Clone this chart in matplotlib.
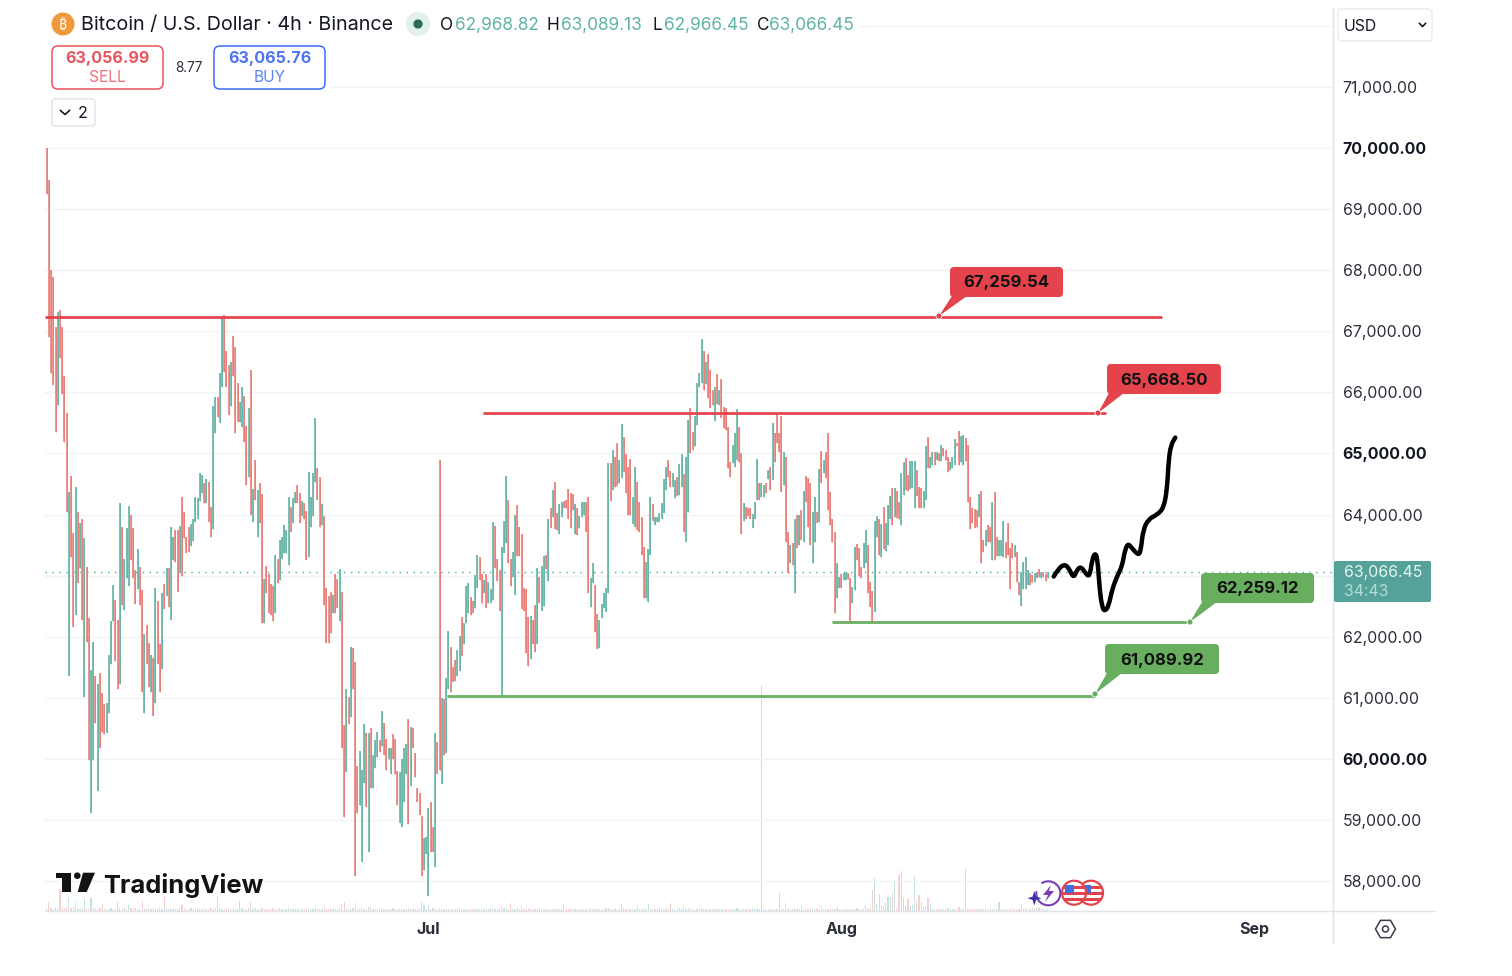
# -*- coding: utf-8 -*-
import numpy as np
import pandas as pd
import matplotlib
matplotlib.use("Agg")
import matplotlib.pyplot as plt
from matplotlib.patches import Circle, FancyBboxPatch, Polygon, Rectangle, RegularPolygon, Arc, PathPatch
from matplotlib.path import Path

plt.rcParams["font.family"] = ["Inter", "DejaVu Sans"]

# ── Data (prices in tens of USD, one entry per 4h candle) ─────────────────────
FIRST_CANDLE = "2024-06-02 08:00"
HIGHS = [
    7000, 6948, 6800, 6789, 6707, 6732, 6735, 6707, 6627, 6567,
    6437, 6463, 6370, 6445, 6405, 6387, 6392, 6361, 6315, 6230,
    6146, 6192, 6136, 6122, 6141, 6108, 6090, 6092, 6170, 6226,
    6285, 6260, 6228, 6419, 6380, 6328, 6378, 6414, 6400, 6378,
    6310, 6344, 6315, 6276, 6205, 6220, 6190, 6170, 6166, 6280,
    6258, 6189, 6272, 6287, 6313, 6313, 6380, 6364, 6374, 6374,
    6382, 6429, 6405, 6364, 6380, 6385, 6392, 6429, 6427, 6468,
    6465, 6451, 6459, 6454, 6413, 6577, 6593, 6592, 6632, 6725,
    6727, 6667, 6645, 6650, 6692, 6674, 6615, 6584, 6609, 6594,
    6545, 6575, 6637, 6442, 6490, 6440, 6452, 6434, 6295, 6316,
    6303, 6287, 6283, 6334, 6328, 6359, 6364, 6383, 6374, 6429,
    6413, 6427, 6437, 6449, 6436, 6423, 6419, 6406, 6470, 6429,
    6468, 6558, 6476, 6462, 6418, 6398, 6280, 6267, 6274, 6269,
    6303, 6295, 6311, 6274, 6056, 6115, 6102, 6184, 6181, 6159,
    5988, 6013, 5982, 6058, 6043, 6043, 6050, 6006, 6031, 6044,
    6031, 6079, 6059, 6033, 6018, 6018, 6041, 6033, 5981, 5979,
    6000, 6018, 6025, 6066, 6053, 6051, 6009, 5952, 5945, 5906,
    5871, 5873, 5920, 5930, 5888, 6043, 6028, 6490, 6100, 6098,
    6133, 6210, 6184, 6151, 6162, 6178, 6202, 6232, 6223, 6283,
    6288, 6265, 6259, 6301, 6334, 6331, 6303, 6293, 6303, 6290,
    6278, 6388, 6382, 6328, 6310, 6347, 6390, 6463, 6424, 6328,
    6339, 6400, 6416, 6380, 6369, 6280, 6278, 6232, 6234, 6228,
    6252, 6313, 6298, 6316, 6333, 6334, 6393, 6411, 6440, 6454,
    6402, 6418, 6421, 6423, 6424, 6442, 6436, 6433, 6418, 6411,
    6398, 6420, 6421, 6421, 6429, 6296, 6321, 6285, 6238, 6228,
    6254, 6272, 6280, 6485, 6485, 6506, 6494, 6517, 6490, 6549,
    6527, 6499, 6478, 6491, 6429, 6478, 6454, 6421, 6396, 6347,
    6323, 6344, 6429, 6418, 6396, 6396, 6402, 6419, 6459, 6478,
    6490, 6472, 6468, 6457, 6462, 6483, 6499, 6467, 6495, 6554,
    6575, 6535, 6561, 6615, 6632, 6688, 6667, 6650, 6662, 6636,
    6604, 6609, 6630, 6604, 6622, 6576, 6575, 6544, 6486, 6514,
    6534, 6573, 6544, 6500, 6419, 6413, 6411, 6411, 6401, 6421,
    6491, 6452, 6452, 6449, 6451, 6473, 6478, 6550, 6534, 6566,
    6534, 6562, 6503, 6495, 6372, 6351, 6354, 6393, 6400, 6400,
    6408, 6439, 6463, 6460, 6452, 6405, 6429, 6405, 6475, 6504,
    6490, 6503, 6534, 6437, 6392, 6372, 6321, 6298, 6303, 6305,
    6306, 6305, 6296, 6282, 6347, 6352, 6346, 6315, 6354, 6374,
    6351, 6290, 6275, 6389, 6398, 6392, 6385, 6413, 6387, 6416,
    6431, 6443, 6443, 6438, 6420, 6468, 6486, 6492, 6465, 6488,
    6488, 6488, 6473, 6445, 6444, 6438, 6513, 6527, 6494, 6503,
    6503, 6503, 6501, 6514, 6509, 6506, 6494, 6486, 6494, 6524,
    6517, 6536, 6528, 6531, 6526, 6514, 6428, 6411, 6409, 6408,
    6433, 6439, 6359, 6375, 6383, 6380, 6420, 6437, 6364, 6359,
    6359, 6390, 6355, 6387, 6346, 6354, 6351, 6338, 6289, 6306,
    6322, 6331, 6310, 6305, 6301, 6305, 6306, 6311, 6306, 6306,
    6303, 6306,
]
LOWS = [
    6925, 6690, 6632, 6612, 6535, 6580, 6656, 6598, 6519, 6404,
    6135, 6331, 6216, 6236, 6288, 6313, 6228, 6102, 6192, 5999,
    5912, 5999, 6059, 5948, 6018, 6044, 6041, 6043, 6075, 6156,
    6226, 6161, 6114, 6122, 6252, 6244, 6296, 6283, 6325, 6296,
    6254, 6278, 6252, 6109, 6075, 6156, 6118, 6110, 6071, 6092,
    6156, 6109, 6148, 6246, 6267, 6249, 6228, 6326, 6323, 6274,
    6305, 6300, 6362, 6337, 6339, 6348, 6356, 6388, 6393, 6423,
    6436, 6419, 6419, 6388, 6364, 6376, 6534, 6560, 6550, 6609,
    6634, 6609, 6563, 6578, 6627, 6534, 6552, 6552, 6544, 6519,
    6449, 6462, 6400, 6388, 6424, 6364, 6387, 6223, 6223, 6272,
    6239, 6235, 6226, 6239, 6288, 6293, 6328, 6337, 6337, 6318,
    6372, 6387, 6419, 6419, 6387, 6398, 6393, 6325, 6331, 6380,
    6398, 6454, 6424, 6380, 6383, 6252, 6190, 6190, 6207, 6239,
    6239, 6247, 6226, 6018, 5905, 5979, 6058, 6069, 6114, 5809,
    5912, 5925, 5832, 5961, 5921, 5848, 5953, 5953, 5986, 6003,
    6012, 6021, 6007, 5982, 6000, 5975, 6000, 5975, 5925, 5896,
    5888, 5930, 5975, 5894, 5956, 6018, 5971, 5929, 5908, 5809,
    5819, 5845, 5775, 5847, 5847, 5824, 5975, 5982, 5959, 6007,
    6010, 6115, 6109, 6126, 6127, 6135, 6144, 6168, 6189, 6223,
    6239, 6235, 6239, 6247, 6280, 6293, 6256, 6272, 6247, 6256,
    6256, 6260, 6313, 6292, 6243, 6103, 6337, 6354, 6321, 6283,
    6298, 6269, 6332, 6332, 6246, 6243, 6174, 6152, 6164, 6189,
    6175, 6189, 6256, 6243, 6251, 6311, 6292, 6378, 6396, 6376,
    6375, 6369, 6396, 6410, 6410, 6393, 6378, 6408, 6369, 6367,
    6378, 6396, 6400, 6372, 6272, 6249, 6288, 6208, 6180, 6182,
    6231, 6247, 6241, 6272, 6423, 6440, 6445, 6447, 6452, 6460,
    6469, 6436, 6400, 6400, 6385, 6380, 6375, 6372, 6334, 6264,
    6263, 6257, 6334, 6390, 6383, 6388, 6388, 6393, 6403, 6441,
    6462, 6445, 6445, 6427, 6431, 6432, 6445, 6372, 6355, 6405,
    6500, 6506, 6513, 6547, 6609, 6615, 6604, 6614, 6590, 6575,
    6580, 6553, 6581, 6580, 6558, 6542, 6539, 6477, 6462, 6485,
    6478, 6490, 6486, 6368, 6390, 6392, 6397, 6392, 6378, 6392,
    6424, 6424, 6429, 6429, 6436, 6458, 6441, 6457, 6486, 6517,
    6503, 6437, 6449, 6355, 6305, 6321, 6318, 6272, 6345, 6351,
    6359, 6355, 6421, 6380, 6351, 6321, 6355, 6387, 6388, 6452,
    6468, 6460, 6408, 6383, 6355, 6239, 6263, 6280, 6280, 6293,
    6293, 6295, 6226, 6256, 6277, 6326, 6300, 6297, 6313, 6321,
    6272, 6249, 6223, 6241, 6364, 6334, 6331, 6344, 6341, 6351,
    6392, 6383, 6396, 6395, 6392, 6383, 6432, 6440, 6439, 6442,
    6444, 6411, 6430, 6411, 6411, 6411, 6424, 6477, 6477, 6481,
    6481, 6490, 6488, 6488, 6496, 6490, 6470, 6473, 6477, 6481,
    6513, 6481, 6486, 6481, 6488, 6420, 6376, 6387, 6378, 6380,
    6396, 6321, 6339, 6348, 6355, 6355, 6326, 6326, 6332, 6332,
    6332, 6331, 6329, 6334, 6279, 6329, 6331, 6289, 6269, 6250,
    6278, 6278, 6285, 6285, 6289, 6290, 6296, 6298, 6296, 6298,
    6291, 6296,
]
DIRECTIONS = """
dddd dudddd uddudududd uududdduuu udduduuudd dudduddudu ddududuudd udddduuuuu
ududduuduu ddduddduud dudududdud ddduduuuuu duuddudduu uudduddddu ddu ddu dud d
duuu dud uuu dud duu ddd u uuu dud ddd d uuu ddu ddu d uud ddu udu u udd uud dud u
uud ddu uud d uud ddd ddu d dud uud udu d duu ddd ddu d uuu ddu udd u uuu udu ddu u
ddd duu ddd d uuu duu uuu u ddu udu udu u ddu uuu dud d dud udd ddd u uud dud ddu u
udu udu dud d ddu ddu dud u dud ddu udu d udd ddd uud u udd uud ddu u ddd uud udu u
udu ddu udd u uud ddu udu u dud udd duu u ddu udd ddd d udd udd udd u uud ddd udd u
uuu ddu udu d du
""".replace(" ", "").replace("\n", "")
VOLUMES = [
    3, 9, 3, 2, 4, 3, 22, 3, 3, 4, 13, 3, 4, 8, 3, 2, 3, 12, 3, 2,
    13, 3, 3, 2, 3, 7, 2, 2, 2, 3, 2, 2, 9, 3, 2, 3, 2, 6, 3, 2,
    3, 2, 3, 10, 3, 2, 3, 2, 3, 2, 2, 3, 2, 15, 3, 2, 2, 3, 2, 2,
    3, 6, 3, 2, 2, 3, 2, 2, 3, 2, 2, 3, 2, 2, 3, 2, 3, 15, 3, 2,
    2, 3, 2, 2, 3, 2, 2, 10, 3, 2, 2, 3, 9, 2, 3, 2, 2, 3, 2, 2,
    2, 2, 3, 2, 2, 3, 2, 2, 2, 3, 2, 2, 2, 3, 2, 2, 2, 3, 2, 2,
    2, 3, 2, 2, 2, 4, 2, 2, 3, 2, 2, 2, 3, 7, 9, 2, 2, 2, 3, 8,
    2, 2, 3, 2, 2, 4, 5, 2, 2, 2, 2, 3, 2, 2, 2, 2, 3, 2, 2, 2,
    2, 2, 2, 3, 2, 2, 2, 2, 3, 9, 6, 2, 6, 2, 3, 2, 2, 3, 2, 2,
    2, 2, 2, 2, 2, 3, 2, 2, 2, 2, 2, 2, 2, 2, 2, 2, 3, 2, 2, 2,
    3, 2, 2, 2, 2, 5, 3, 2, 2, 8, 2, 2, 4, 2, 5, 2, 2, 3, 2, 2,
    2, 2, 3, 2, 2, 2, 2, 2, 2, 2, 2, 2, 2, 6, 2, 2, 3, 2, 2, 2,
    2, 2, 2, 2, 2, 3, 2, 2, 2, 2, 2, 2, 3, 3, 2, 2, 2, 2, 2, 7,
    3, 2, 2, 2, 2, 2, 5, 2, 2, 3, 2, 7, 2, 2, 2, 2, 3, 2, 2, 2,
    2, 8, 2, 2, 2, 3, 2, 4, 2, 3, 2, 2, 2, 2, 2, 3, 2, 2, 2, 2,
    2, 2, 2, 2, 2, 2, 2, 2, 2, 2, 2, 3, 2, 2, 2, 2, 2, 2, 3, 2,
    2, 2, 226, 2, 2, 2, 2, 2, 2, 2, 19, 2, 2, 8, 2, 2, 2, 3, 2, 2,
    5, 2, 2, 2, 3, 2, 2, 2, 2, 5, 2, 2, 2, 2, 2, 2, 3, 2, 2, 2,
    2, 2, 2, 2, 2, 3, 2, 2, 2, 6, 2, 3, 21, 33, 7, 17, 6, 5, 9, 14,
    14, 18, 29, 3, 36, 40, 13, 6, 12, 5, 6, 35, 10, 16, 9, 4, 5, 13, 7, 2,
    2, 2, 2, 2, 2, 2, 3, 2, 2, 2, 2, 4, 2, 2, 42, 2, 2, 2, 2, 2,
    2, 2, 2, 2, 2, 3, 2, 2, 2, 9, 2, 2, 2, 2, 2, 3, 2, 2, 2, 6,
    2, 3, 2, 2, 3, 2, 3, 3, 2, 2, 2, 2,
]

PRICE_TICKS = [58000, 59000, 60000, 61000, 62000, 63000, 64000, 65000, 66000, 67000,
               68000, 69000, 70000, 71000]
BOLD_TICKS = [60000, 65000, 70000]
HIDDEN_TICKS = [63000]  # sits behind the last price tag
MONTH_TICKS = ["2024-07-01", "2024-08-01", "2024-09-01"]
MONTH_LABELS = ["Jul", "Aug", "Sep"]
LAST_PRICE = 63066.45

# drawn levels: price, first day, last day (days counted from 1 Jul)
LEVEL_PRICES = [67227, 65665, 62245, 61035]
LEVEL_STARTS = [-28.79, 4.09, 30.29, 1.39]
LEVEL_ENDS = [55.07, 50.87, 57.17, 50.04]
LEVEL_COLORS = ["#e5464f", "#e5464f", "#6aaf62", "#6aaf62"]

# hand drawn forecast (days from 1 Jul, price)
SKETCH_DAYS = [46.94, 47.31, 47.81, 48.14, 48.44, 48.69, 48.99, 49.32, 49.64, 49.82, 50.06, 50.24,
               50.39, 50.57, 50.76, 51.06, 51.32, 51.69, 52.07, 52.24, 52.49, 52.82, 53.31, 53.49,
               53.65, 54.07, 54.70, 55.19, 55.45, 55.57, 55.75, 56.07]
SKETCH_PRICES = [62986, 63124, 63190, 63096, 62960, 63096, 63150, 63042, 62977, 63260, 63380, 63260,
                 62769, 62496, 62414, 62496, 62769, 62986, 63150, 63369, 63533, 63451, 63330, 63423,
                 63750, 63930, 63996, 64106, 64405, 64896, 65141, 65260]

TEAL, TEAL_DARK = "#80c1b6", "#5db0a2"
RED, RED_DARK = "#ec9791", "#ea716c"
DARK = "#131722"

# ── Figure and price axes ─────────────────────────────────────────────────────
W, H = 1512, 976
fig = plt.figure(figsize=(W / 100, H / 100), dpi=100, facecolor="white")
rect = [45 / W, 1 - 911 / H, (1333 - 45) / W, (911 - 8) / H]
ax = fig.add_axes(rect)
ax_vol = fig.add_axes(rect, sharex=ax)
ax.set_zorder(2)
ax.patch.set_visible(False)
ax_vol.set_zorder(1)

times = pd.date_range(FIRST_CANDLE, periods=len(HIGHS), freq="4h")
highs = np.array(HIGHS) * 10
lows = np.array(LOWS) * 10
is_up = np.array([c == "u" for c in DIRECTIONS])
jul1 = pd.Timestamp("2024-07-01")


def day(d):
    return jul1 + pd.to_timedelta(d, unit="D")


# volume sits behind the candles
vol_cols = [TEAL if u else RED for u in is_up]
ax_vol.bar(times, VOLUMES, width=0.09, color=vol_cols, alpha=0.45, linewidth=0)
ax_vol.set_ylim(0, 903)
ax_vol.axis("off")

# candles: pale body with a darker centre
ax.vlines(times, lows, highs, colors=[TEAL if u else RED for u in is_up], linewidth=1.45, zorder=3)
ax.vlines(times, lows, highs, colors=[TEAL_DARK if u else RED_DARK for u in is_up], linewidth=0.45, zorder=3.1)

ax.hlines(72000, day(-28.79), day(67.91), color="#f2f3f5", linewidth=1, zorder=0)
ax.axhline(LAST_PRICE, color="#3fae9f", linestyle=(0, (1, 4)), linewidth=1, zorder=2.5)

for p, a, b, c in zip(LEVEL_PRICES, LEVEL_STARTS, LEVEL_ENDS, LEVEL_COLORS):
    ax.hlines(p, day(a), day(b), color=c, linewidth=2.0, zorder=4)

# smooth the sketch with quadratic segments through the read points
sketch_x = matplotlib.dates.date2num(day(np.array(SKETCH_DAYS)))
sketch_y = np.array(SKETCH_PRICES, dtype=float)
verts, codes = [(sketch_x[0], sketch_y[0])], [Path.MOVETO]
for i in range(1, len(sketch_x) - 1):
    verts += [(sketch_x[i], sketch_y[i]),
              ((sketch_x[i] + sketch_x[i + 1]) / 2, (sketch_y[i] + sketch_y[i + 1]) / 2)]
    codes += [Path.CURVE3, Path.CURVE3]
verts.append((sketch_x[-1], sketch_y[-1]))
codes.append(Path.LINETO)
ax.add_patch(PathPatch(Path(verts, codes), fill=False, edgecolor="black", linewidth=3.2,
                       capstyle="round", joinstyle="round", zorder=5))

ax.set_xlim(day(-28.79), day(67.91))
ax.set_ylim(57512, 72291)
ax.yaxis.tick_right()
ax.set_yticks(PRICE_TICKS)
ax.set_yticklabels(["" if v in HIDDEN_TICKS else f"{v:,.2f}" for v in PRICE_TICKS],
                   fontsize=11.4, color="#2a2e39")
for lab, v in zip(ax.get_yticklabels(), PRICE_TICKS):
    if v in BOLD_TICKS:
        lab.set_fontweight("bold")
        lab.set_color(DARK)
ax.set_xticks(pd.to_datetime(MONTH_TICKS))
ax.set_xticklabels(MONTH_LABELS, fontsize=11.5, fontweight="bold", color="#2a2e39")
ax.tick_params(axis="y", length=0, pad=7)
ax.tick_params(axis="x", length=0, pad=8)
ax.grid(True, axis="y", color="#f2f3f5", linewidth=1)
ax.set_axisbelow(True)
for s in ax.spines.values():
    s.set_visible(False)

# ── Widgets on top, in screen pixels ──────────────────────────────────────────
ui = fig.add_axes([0, 0, 1, 1], zorder=5)
ui.set_xlim(0, W)
ui.set_ylim(H, 0)
ui.axis("off")
ui.patch.set_visible(False)


def rbox(x0, y0, x1, y1, fc="white", ec="none", lw=1.0, r=5, z=3):
    ui.add_patch(FancyBboxPatch((x0, y0), x1 - x0, y1 - y0, boxstyle=f"round,pad=0,rounding_size={r}",
                                fc=fc, ec=ec, lw=lw, zorder=z))


# hide the grid behind the header
ui.add_patch(Rectangle((45, 0), 815, 40, fc="white", ec="none", zorder=1))
ui.add_patch(Rectangle((45, 40), 285, 96, fc="white", ec="none", zorder=1))
ui.plot([1333, 1333], [8, 943], color="#e0e3eb", lw=1, zorder=2)
ui.plot([45, 1435], [911, 911], color="#e0e3eb", lw=1, zorder=2)

# title row
ui.add_patch(Circle((63, 24), 11.5, fc="#f0993a", ec="none", zorder=3))
ui.text(63, 24.5, "₿", color="white", fontsize=10, fontweight="bold", ha="center", va="center",
        family=["Noto Sans", "Roboto", "Open Sans", "Lato", "Inter", "Liberation Sans", "DejaVu Sans"], zorder=4)
ui.text(81, 25.5, "Bitcoin / U.S. Dollar · 4h · Binance", fontsize=14.2, color=DARK, va="center", zorder=4)
ui.add_patch(Circle((418, 24), 12, fc="#e3efec", ec="none", zorder=3))
ui.add_patch(Circle((418, 24), 4.6, fc="#2b6b58", ec="none", zorder=4))
for lx, lab, vx, val in [(440, "O", 455, "62,968.82"), (547, "H", 561, "63,089.13"),
                         (653, "L", 664, "62,966.45"), (757, "C", 769, "63,066.45")]:
    ui.text(lx, 25.5, lab, fontsize=12.4, color=DARK, va="center", zorder=4)
    ui.text(vx, 25.5, val, fontsize=12.4, color="#5fb3a5", va="center", zorder=4)

# sell / buy
rbox(52, 46, 163, 89, ec="#e8545c", lw=1.1, r=6)
ui.text(107.5, 59, "63,056.99", fontsize=11.6, fontweight="bold", color="#e8555e", ha="center", va="center", zorder=4)
ui.text(107.5, 77, "SELL", fontsize=11.2, color="#f0707a", ha="center", va="center", zorder=4)
ui.text(188.5, 68, "8.77", fontsize=9.8, color="#2a2e39", ha="center", va="center", zorder=4)
rbox(214, 46, 325, 89, ec="#3d6bf5", lw=1.1, r=6)
ui.text(269.5, 59, "63,065.76", fontsize=11.6, fontweight="bold", color="#4d74f2", ha="center", va="center", zorder=4)
ui.text(269.5, 77, "BUY", fontsize=11.2, color="#5f85f5", ha="center", va="center", zorder=4)

# collapsed indicators button
rbox(52, 99, 95, 126, ec="#e0e3eb", lw=1, r=3)
ui.plot([60.5, 65, 69.5], [110.5, 114.5, 110.5], color=DARK, lw=1.2, zorder=4)
ui.text(83, 114, "2", fontsize=11.5, color=DARK, ha="center", va="center", zorder=4)

# currency dropdown
rbox(1338, 9, 1432, 41, ec="#e9ebf0", lw=1, r=4)
ui.text(1344, 26.5, "USD", fontsize=11.4, color=DARK, va="center", zorder=4)
ui.plot([1419.5, 1422.5, 1425.5], [23.5, 26.5, 23.5], color=DARK, lw=1.2, zorder=4)

# price level callouts
for x0, y0, x1, y1, tip, base, fc, txt in [
    (950, 267, 1063, 297, (939, 316), (952, 967), "#e5434c", "67,259.54"),
    (1107, 364, 1221, 394, (1098, 413), (1109, 1124), "#e5434c", "65,668.50"),
    (1201, 573, 1314, 603, (1190, 622), (1202, 1217), "#67ae5f", "62,259.12"),
    (1105, 644, 1219, 674, (1095, 694), (1107, 1122), "#67ae5f", "61,089.92"),
]:
    rbox(x0, y0, x1, y1, fc=fc, r=4)
    ui.add_patch(Polygon([(base[0], y1 - 1), (base[1], y1 - 1), tip], fc=fc, ec="none", zorder=3))
    ui.add_patch(Circle(tip, 3, fc=fc, ec="white", lw=0.6, zorder=4))
    ui.text((x0 + x1) / 2, (y0 + y1) / 2 + 1, txt, fontsize=12, fontweight="bold", color="#101010",
            ha="center", va="center", zorder=4)

# last price tag
rbox(1334, 561, 1431, 602, fc="#54a299", r=2)
ui.text(1344, 573, "63,066.45", fontsize=11.4, color="#e8f4f2", va="center", zorder=4)
ui.text(1344, 591, "34:43", fontsize=11.4, color="#b6dcd6", va="center", zorder=4)

# logo
ui.add_patch(Polygon([(55.7, 872.7), (70.7, 872.7), (70.7, 892), (62, 892), (62, 878), (55.7, 878)],
                     fc="#131313", ec="none", zorder=4))
ui.add_patch(Circle((77.3, 875.7), 3.3, fc="#131313", ec="none", zorder=4))
ui.add_patch(Polygon([(83, 872.7), (95, 872.7), (86.7, 892), (77.7, 892)], fc="#131313", ec="none", zorder=4))
ui.text(103.5, 885, "TradingView", fontsize=18.4, fontweight="bold", color="#131313", va="center", zorder=4)

# event icons
purple = "#7b3fb5"
ui.add_patch(Arc((1048.3, 893.3), 24, 24, theta1=-125, theta2=190, color=purple, lw=1.5, zorder=4))
ui.add_patch(Polygon([(1051, 885), (1043, 895), (1048, 895), (1045, 902), (1054, 891), (1049, 891)],
                     fc=purple, ec="none", zorder=4))
ui.add_patch(Polygon([(1034.3, 891), (1036, 896.6), (1041.5, 898.3), (1036, 900), (1034.3, 905.5),
                      (1032.6, 900), (1027.5, 898.3), (1032.6, 896.6)], fc="#3f2fa8", ec="none", zorder=4))


def flag(cx, cy, z):
    disc = Circle((cx, cy), 12, fc="white", ec="#e5434c", lw=1.6, zorder=z)
    ui.add_patch(disc)
    for y0 in (-7, -1, 5):
        r = Rectangle((cx - 12, cy + y0), 24, 3.4, fc="#e5434c", ec="none", zorder=z)
        ui.add_patch(r)
        r.set_clip_path(disc)
    b = Rectangle((cx - 9, cy - 8), 9, 8, fc="#3f6fe0", ec="none", zorder=z)
    ui.add_patch(b)
    b.set_clip_path(disc)


flag(1091, 892.7, 4)
flag(1074, 892.7, 4.5)

# settings hexagon
ui.add_patch(RegularPolygon((1385.5, 929), 6, radius=10, orientation=np.pi / 2, fc="none", ec="#3a3e4a", lw=1.1, zorder=4))
ui.add_patch(Circle((1385.5, 929), 3, fc="none", ec="#3a3e4a", lw=1.1, zorder=4))

fig.savefig("out.png", dpi=100)
